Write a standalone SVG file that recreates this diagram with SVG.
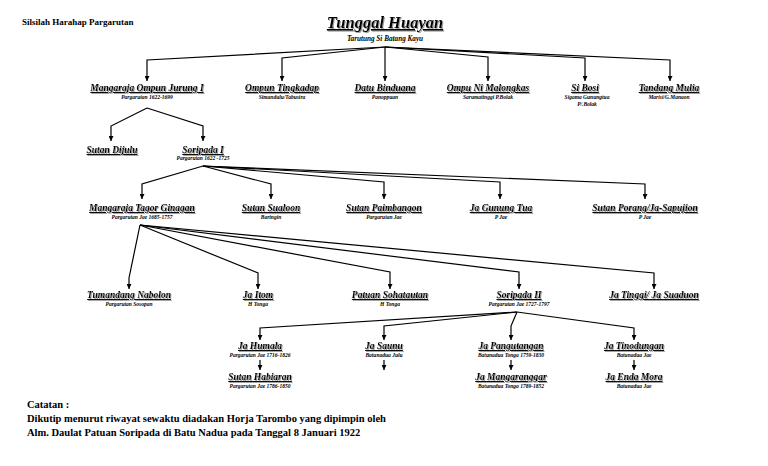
<svg xmlns="http://www.w3.org/2000/svg" width="768" height="466" viewBox="0 0 768 466">
<defs>
<style>
.nm{font-family:"Liberation Serif",serif;font-style:italic;font-weight:bold;font-size:9.5px;text-anchor:middle;text-decoration:underline;fill:#000;filter:url(#sh)}
.sb{font-family:"Liberation Serif",serif;font-style:italic;font-weight:bold;font-size:5.5px;text-anchor:middle;fill:#000}
.cn{fill:none;stroke:#000;stroke-width:1.2;marker-end:url(#ah)}
.hd{font-family:"Liberation Serif",serif;font-weight:bold;fill:#000}
</style>
<marker id="ah" viewBox="0 0 6 6" refX="6" refY="3" markerWidth="5" markerHeight="5" markerUnits="userSpaceOnUse" orient="auto"><path d="M0,0 L6,3 L0,6 z" fill="#000"/></marker>
<filter id="sh" x="-10%" y="-30%" width="120%" height="160%"><feDropShadow dx="1" dy="1" stdDeviation="0.4" flood-color="#888" flood-opacity="0.8"/></filter>
</defs>
<rect width="768" height="466" fill="#fff"/>
<text class="hd" x="22" y="25" font-size="9">Silsilah Harahap Pargarutan</text>
<g id="root">
<text class="nm" x="385" y="28" style="font-size:16.5px">Tunggal Huayan</text>
<text class="sb" x="385" y="41" style="font-size:7.2px">Tarutung Si Batang Kayu</text>
</g>
<g id="connectors">
<polyline class="cn" points="385,47 147,60 147,81"/>
<polyline class="cn" points="385,47 282,58 282,81"/>
<polyline class="cn" points="385,47 385,81"/>
<polyline class="cn" points="385,47 488,57 488,81"/>
<polyline class="cn" points="385,47 585,58 585,81"/>
<polyline class="cn" points="385,47 670,60 670,81"/>
<polyline class="cn" points="147,108 111,126 111,141"/>
<polyline class="cn" points="147,108 203,126 203,141"/>
<polyline class="cn" points="203,166 142,184 142,199"/>
<polyline class="cn" points="203,166 271,184 271,199"/>
<polyline class="cn" points="203,166 384,182 384,199"/>
<polyline class="cn" points="203,166 500,182 500,199"/>
<polyline class="cn" points="203,166 645,184 645,199"/>
<polyline class="cn" points="140,225 129,278 129,289"/>
<polyline class="cn" points="140,225 258,273 258,289"/>
<polyline class="cn" points="140,225 390,272 390,289"/>
<polyline class="cn" points="140,225 519,272 519,289"/>
<polyline class="cn" points="140,225 654,273 654,289"/>
<polyline class="cn" points="517,312 260,328 260,340"/>
<polyline class="cn" points="517,312 384,326 384,340"/>
<polyline class="cn" points="517,312 511,326 511,340"/>
<polyline class="cn" points="517,312 634,328 634,340"/>
<line class="cn" x1="260" y1="360" x2="260" y2="370"/>
<line class="cn" x1="384" y1="360" x2="384" y2="370"/>
<line class="cn" x1="511" y1="360" x2="511" y2="370"/>
<line class="cn" x1="634" y1="360" x2="634" y2="370"/>
</g>
<g id="n1"><text class="nm" x="147" y="91">Mangaraja Ompun Jurung I</text><text class="sb" x="147" y="99">Pargarutan 1622-1699</text></g>
<g id="n2"><text class="nm" x="282" y="91">Ompun Tingkadap</text><text class="sb" x="282" y="99">Simandulu/Tabusira</text></g>
<g id="n3"><text class="nm" x="385" y="91">Datu Binduana</text><text class="sb" x="385" y="99">Panoppuan</text></g>
<g id="n4"><text class="nm" x="488" y="91">Ompu Ni Malongkas</text><text class="sb" x="488" y="99">Sarumatinggi P.Bolak</text></g>
<g id="n5"><text class="nm" x="585" y="91">Si Bosi</text><text class="sb" x="587" y="99">Sigama Gunungtua</text><text class="sb" x="587" y="106">P/.Bolak</text></g>
<g id="n6"><text class="nm" x="669" y="91">Tandang Mulia</text><text class="sb" x="669" y="99">Marisi/G.Manaon</text></g>
<g id="n7"><text class="nm" x="112" y="153">Sutan Dijulu</text></g>
<g id="n8"><text class="nm" x="203" y="153">Soripada I</text><text class="sb" x="203" y="160">Pargarutan 1622 -1725</text></g>
<g id="n9"><text class="nm" x="142" y="211">Mangaraja Tagor Ginagan</text><text class="sb" x="142" y="219">Pargarutan Jae 1685-1757</text></g>
<g id="n10"><text class="nm" x="271" y="211">Sutan Sualoon</text><text class="sb" x="271" y="219">Baringin</text></g>
<g id="n11"><text class="nm" x="384" y="211">Sutan Paimbangon</text><text class="sb" x="384" y="219">Pargarutan Jae</text></g>
<g id="n12"><text class="nm" x="501" y="211">Ja Gunung Tua</text><text class="sb" x="501" y="219">P Jae</text></g>
<g id="n13"><text class="nm" x="645" y="211">Sutan Porang/Ja-Sapujion</text><text class="sb" x="645" y="219">P Jae</text></g>
<g id="n14"><text class="nm" x="129" y="298">Tumandang Nabolon</text><text class="sb" x="129" y="306">Pargarutan Sosopan</text></g>
<g id="n15"><text class="nm" x="258" y="298">Ja Itom</text><text class="sb" x="258" y="306">H Tonga</text></g>
<g id="n16"><text class="nm" x="390" y="298">Patuan Sohatautan</text><text class="sb" x="390" y="306">H Tonga</text></g>
<g id="n17"><text class="nm" x="519" y="298">Soripada II</text><text class="sb" x="519" y="306">Pargarutan Jae 1727-1797</text></g>
<g id="n18"><text class="nm" x="654" y="298">Ja Tinggi/ Ja Suaduon</text></g>
<g id="n19"><text class="nm" x="260" y="349">Ja Humala</text><text class="sb" x="260" y="357">Pargarutan Jae 1716-1826</text></g>
<g id="n20"><text class="nm" x="384" y="349">Ja Saunu</text><text class="sb" x="384" y="357">Batunadua Julu</text></g>
<g id="n21"><text class="nm" x="511" y="349">Ja Pangutangan</text><text class="sb" x="511" y="357">Batunadua Tonga 1759-1830</text></g>
<g id="n22"><text class="nm" x="634" y="349">Ja Tinodungan</text><text class="sb" x="634" y="357">Batunadua Jae</text></g>
<g id="n23"><text class="nm" x="260" y="380">Sutan Habiaran</text><text class="sb" x="260" y="388">Pargarutan Jae 1786-1850</text></g>
<g id="n24"><text class="nm" x="511" y="380">Ja Mangaranggar</text><text class="sb" x="511" y="388">Batunadua Tonga 1789-1852</text></g>
<g id="n25"><text class="nm" x="634" y="380">Ja Enda Mora</text><text class="sb" x="634" y="388">Batunadua Jae</text></g>
<g id="note">
<text class="hd" x="27" y="408" font-size="10.5">Catatan :</text>
<text class="hd" x="27" y="422" font-size="10.5">Dikutip menurut riwayat sewaktu diadakan Horja Tarombo yang dipimpin oleh</text>
<text class="hd" x="27" y="436" font-size="10.5">Alm. Daulat Patuan Soripada di Batu Nadua pada Tanggal 8 Januari 1922</text>
</g>
</svg>
